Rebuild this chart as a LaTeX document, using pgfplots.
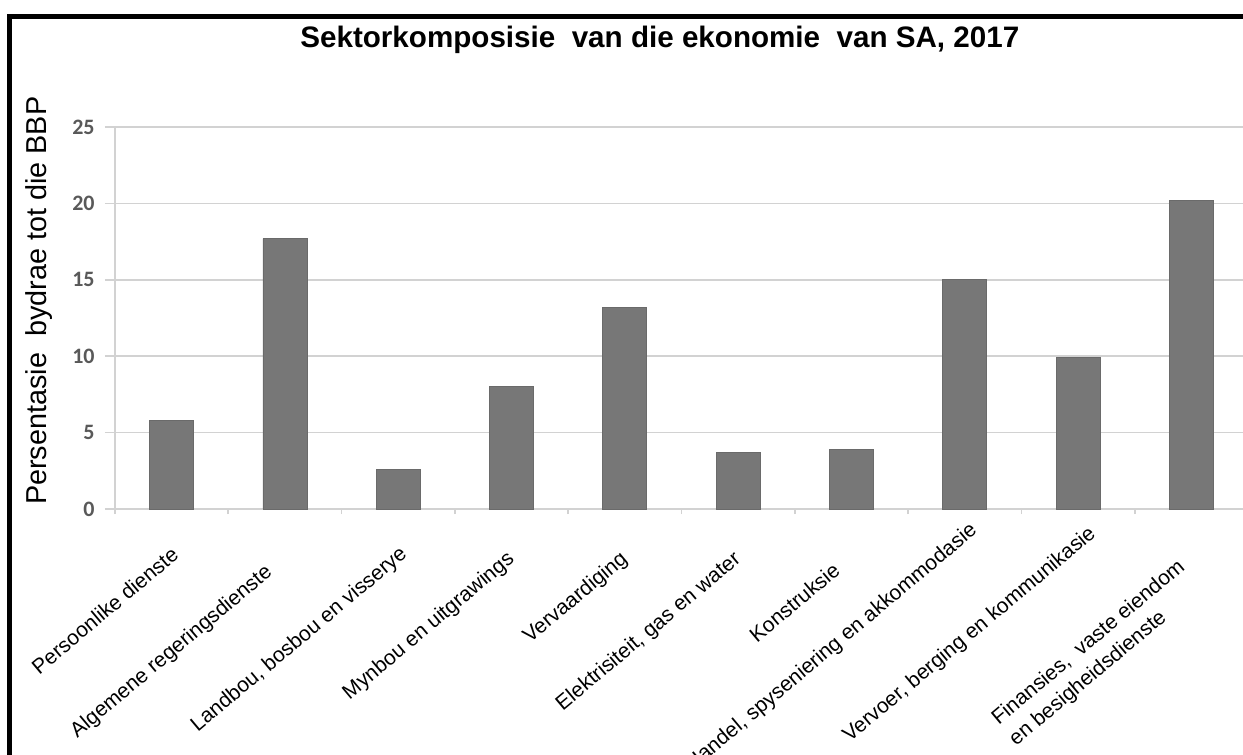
\documentclass[border=0pt]{standalone}
\usepackage{pgfplots}
\pgfplotsset{compat=1.18}
\usepackage{fontspec}
\setmainfont{Liberation Sans}
\newfontfamily\carlito{Carlito}
\definecolor{barfill}{HTML}{777777}
\definecolor{baredge}{HTML}{6A6A6A}
\definecolor{gridc}{HTML}{D2D2D2}
\definecolor{tickc}{HTML}{595959}
\begin{document}
\begin{tikzpicture}
\useasboundingbox (-57.5pt,-123pt) rectangle (564pt,254.5pt);
\begin{axis}[
  at={(0,0)}, anchor=south west,
  width=564pt, height=191pt, scale only axis,
  xmin=-0.5, xmax=9.456, ymin=0, ymax=25,
  ytick={0,5,...,25},
  xtick={0,...,9},
  xticklabels={
    {\makebox[\dimexpr\width-3pt\relax][l]{Persoonlike dienste}},
    {Algemene regeringsdienste\rule{10pt}{0pt}},
    {\makebox[\dimexpr\width-4pt\relax][l]{Landbou, bosbou en visserye}},
    {Mynbou en uitgrawings},
    {Vervaardiging},
    {Elektrisiteit, gas en water},
    {Konstruksie\rule{9pt}{0pt}},
    {\raisebox{8pt}[\height][\depth]{\makebox[\dimexpr\width-13pt\relax][l]{Handel, spyseniering en akkommodasie}}},
    {\raisebox{5pt}[\height][\depth]{\makebox[\dimexpr\width-14pt\relax][l]{Vervoer, berging en kommunikasie}}},
    {Finansies,\ \ vaste eiendom\rule{6pt}{0pt}\\en besigheidsdienste}},
  minor xtick={-0.5,0.5,...,8.5},
  ymajorgrids, grid style={gridc, line width=0.8pt},
  axis x line*=bottom, axis y line*=left,
  axis line style={gridc, line width=0.8pt},
  tick style={gridc, line width=0.8pt},
  tick align=outside,
  major tick length=5pt, minor tick length=2.5pt,
  every major x tick/.append style={draw=none},
  /pgf/number format/assume math mode=true,
  yticklabel style={font=\fontsize{11}{13}\carlito\bfseries, text=tickc, inner sep=0pt, xshift=-5pt},
  xticklabel style={rotate=40, anchor=north east, align=left, inner sep=0pt, font=\fontsize{10.5}{13.5}\selectfont, yshift=-9.5pt, xshift=-12pt},
  title={Sektorkomposisie\ \ van die ekonomie\ \ van SA, 2017},
  title style={at={(axis description cs:0.483,1.196)}, anchor=center, font=\fontsize{14.8}{17}\selectfont\bfseries},
  ylabel={Persentasie\ \ bydrae tot die BBP},
  ylabel style={at={(axis description cs:-0.0675,0.545)}, anchor=center, font=\fontsize{14.4}{17}\selectfont},
]
\addplot[ybar, bar width=22pt, fill=barfill, draw=baredge] coordinates {
(0,5.8) (1,17.7) (2,2.6) (3,8.0) (4,13.2) (5,3.7) (6,3.9) (7,15.0) (8,9.9) (9,20.2)};
\end{axis}
\draw[line width=2.5pt] (-52.5pt,-130pt) -- (-52.5pt,246pt) -- (570pt,246pt);
\end{tikzpicture}
\end{document}
